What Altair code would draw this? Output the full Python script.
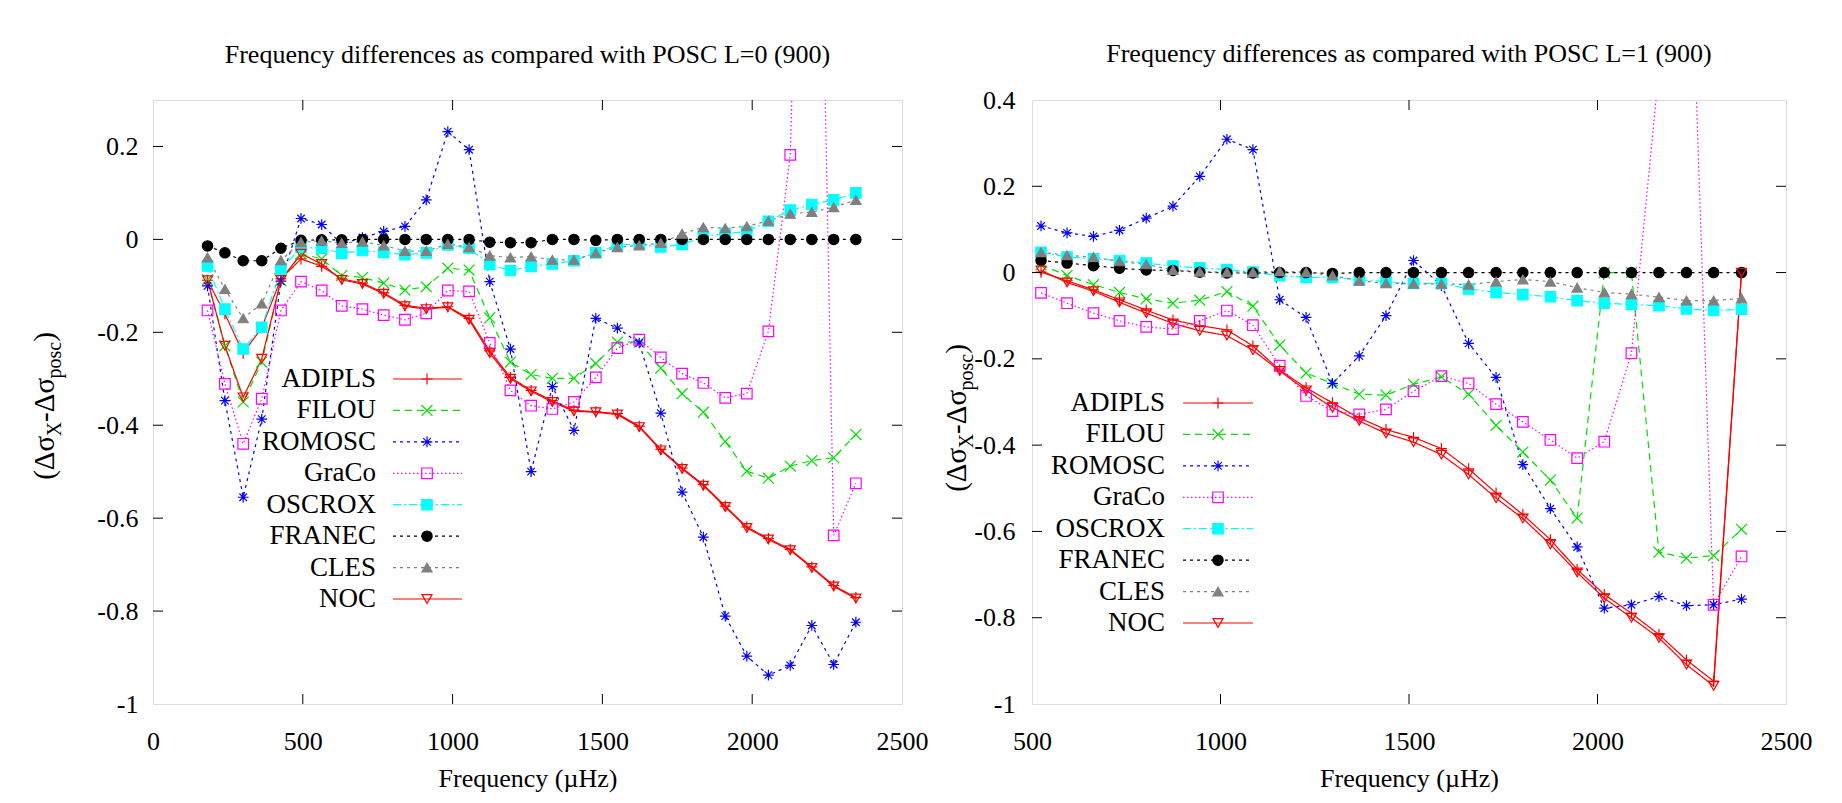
import altair as alt
import pandas as pd

FONT = "Liberation Serif"

names = ["ADIPLS", "FILOU", "ROMOSC", "GraCo", "OSCROX", "FRANEC", "CLES", "NOC"]

# ---------------- L=0 panel data ----------------
freq_l0 = [182, 240, 301, 363, 427, 494, 563, 630, 699, 770, 841, 912, 984, 1055, 1124, 1193,
           1262, 1333, 1405, 1478, 1550, 1623, 1695, 1766, 1837, 1910, 1982, 2054, 2127, 2199, 2272, 2346]

adipls_l0 = [-0.088, -0.16, -0.245, -0.19, -0.085, -0.042, -0.058, -0.085, -0.094, -0.115, -0.142, -0.148,
             -0.145, -0.170, -0.240, -0.297, -0.325, -0.347, -0.368, -0.371, -0.375, -0.402, -0.452, -0.492,
             -0.528, -0.574, -0.619, -0.644, -0.667, -0.705, -0.745, -0.771]
filou_l0 = [-0.087, -0.229, -0.350, -0.264, -0.089, -0.031, -0.042, -0.078, -0.082, -0.094, -0.109, -0.102,
            -0.062, -0.066, -0.169, -0.264, -0.291, -0.299, -0.299, -0.267, -0.221, -0.221, -0.277, -0.332,
            -0.372, -0.435, -0.499, -0.514, -0.488, -0.476, -0.470, -0.420]
romosc_l0 = [-0.100, -0.347, -0.555, -0.387, -0.09, 0.045, 0.032, -0.010, 0.004, 0.017, 0.028, 0.085,
             0.232, 0.193, -0.091, -0.236, -0.500, -0.317, -0.411, -0.170, -0.191, -0.223, -0.374, -0.544,
             -0.641, -0.811, -0.897, -0.938, -0.917, -0.831, -0.915, -0.824]
graco_l0 = [-0.153, -0.311, -0.440, -0.343, -0.153, -0.091, -0.110, -0.143, -0.150, -0.163, -0.173, -0.159,
            -0.110, -0.112, -0.223, -0.325, -0.358, -0.365, -0.350, -0.297, -0.234, -0.216, -0.254, -0.289,
            -0.309, -0.341, -0.332, -0.198, 0.182, 1.8, -0.637, -0.525]
oscrox_l0 = [-0.057, -0.150, -0.236, -0.189, -0.065, -0.017, -0.019, -0.030, -0.024, -0.028, -0.033, -0.029,
             -0.012, -0.019, -0.054, -0.067, -0.058, -0.053, -0.046, -0.029, -0.012, -0.010, -0.016, -0.011,
             0.006, 0.013, 0.017, 0.039, 0.063, 0.075, 0.085, 0.100]
franec_l0 = [-0.014, -0.029, -0.046, -0.046, -0.019, -0.002, -0.001, -0.001, 0, 0, 0, 0,
             0, 0, -0.006, -0.007, -0.007, 0, 0, -0.002, 0, 0, 0, 0,
             0, 0, 0, 0, 0, 0, 0, 0]
cles_l0 = [-0.039, -0.107, -0.170, -0.138, -0.045, -0.006, -0.003, -0.008, -0.005, -0.013, -0.025, -0.025,
           -0.010, -0.017, -0.035, -0.039, -0.037, -0.044, -0.044, -0.029, -0.017, -0.013, -0.008, 0.012,
           0.026, 0.024, 0.028, 0.040, 0.055, 0.059, 0.069, 0.085]
noc_l0 = [-0.088, -0.229, -0.340, -0.257, -0.087, -0.031, -0.053, -0.087, -0.096, -0.117, -0.144, -0.150,
          -0.146, -0.173, -0.245, -0.300, -0.327, -0.350, -0.370, -0.372, -0.377, -0.404, -0.454, -0.494,
          -0.530, -0.576, -0.621, -0.646, -0.669, -0.707, -0.747, -0.773]

# ---------------- L=1 panel data ----------------
freq_l1 = [524, 593, 663, 732, 803, 874, 945, 1017, 1086, 1157, 1227, 1297, 1368, 1439, 1512, 1586,
           1658, 1731, 1802, 1875, 1946, 2018, 2090, 2163, 2236, 2308, 2382]

adipls_l1 = [0.001, -0.019, -0.040, -0.063, -0.087, -0.110, -0.123, -0.133, -0.170, -0.226, -0.267, -0.302,
             -0.337, -0.364, -0.382, -0.408, -0.455, -0.511, -0.561, -0.619, -0.688, -0.746, -0.790, -0.839,
             -0.898, -0.947, 0.0]
filou_l1 = [0.018, -0.007, -0.028, -0.046, -0.061, -0.071, -0.064, -0.044, -0.078, -0.168, -0.233, -0.257,
            -0.282, -0.284, -0.259, -0.242, -0.282, -0.354, -0.416, -0.481, -0.569, 0.0, 0.0, -0.648,
            -0.662, -0.656, -0.595]
romosc_l1 = [0.108, 0.092, 0.084, 0.098, 0.126, 0.154, 0.223, 0.309, 0.285, -0.063, -0.104, -0.257,
             -0.193, -0.100, 0.028, -0.03, -0.164, -0.243, -0.445, -0.547, -0.636, -0.778, -0.770, -0.751,
             -0.772, -0.770, -0.757]
graco_l1 = [-0.047, -0.071, -0.094, -0.112, -0.126, -0.131, -0.112, -0.088, -0.122, -0.216, -0.286, -0.321,
            -0.329, -0.317, -0.275, -0.240, -0.257, -0.305, -0.346, -0.388, -0.430, -0.392, -0.187, 0.47,
            1.08, -0.770, -0.658]
oscrox_l1 = [0.047, 0.036, 0.032, 0.028, 0.022, 0.015, 0.011, 0.007, 0.001, -0.007, -0.011, -0.011,
             -0.017, -0.021, -0.025, -0.025, -0.038, -0.046, -0.051, -0.056, -0.065, -0.071, -0.074, -0.077,
             -0.084, -0.088, -0.085]
franec_l1 = [0.028, 0.022, 0.016, 0.010, 0.006, 0.005, 0.001, -0.001, -0.001, 0, 0, -0.002,
             0, 0, 0, 0, 0, 0, 0, 0, 0, 0, 0, 0, 0, 0, 0]
cles_l1 = [0.047, 0.040, 0.036, 0.026, 0.019, 0.006, 0.002, 0.001, 0.001, 0.003, 0.001, -0.007,
           -0.019, -0.025, -0.026, -0.026, -0.028, -0.021, -0.016, -0.021, -0.035, -0.046, -0.050, -0.057,
           -0.065, -0.065, -0.060]
noc_l1 = [0.005, -0.023, -0.043, -0.069, -0.094, -0.118, -0.135, -0.146, -0.180, -0.228, -0.273, -0.313,
          -0.344, -0.373, -0.393, -0.422, -0.468, -0.523, -0.570, -0.630, -0.695, -0.755, -0.800, -0.847,
          -0.909, -0.958, 0.0]

# tick values
xticks_l0 = [0, 500, 1000, 1500, 2000, 2500]
xticks_l1 = [500, 1000, 1500, 2000, 2500]
yticks_l0 = [-1, -0.8, -0.6, -0.4, -0.2, 0, 0.2]
yticks_l1 = [-1, -0.8, -0.6, -0.4, -0.2, 0, 0.2, 0.4]

# ---------------- styles ----------------
colors = ["#ff0000", "#00e000", "#0000ff", "#ff00ff", "#00ffff", "#000000", "#808080", "#ff0000"]
fills = ["transparent", "transparent", "transparent", "transparent", "#00ffff", "#000000", "#808080", "transparent"]
dashes = [[1, 0], [7, 5], [3, 4], [1.5, 2.5], [8, 3, 2, 3], [3, 4], [3, 4], [1, 0]]
PLUS = "M-1,0H1M0,-1V1"
XMARK = "M-1,-1L1,1M-1,1L1,-1"
STAR = "M-1,0H1M0,-1V1M-0.7,-0.7L0.7,0.7M-0.7,0.7L0.7,-0.7"
shapes = [PLUS, XMARK, STAR, "square", "square", "circle", "triangle-up", "triangle-down"]
sizes = [121, 100, 144, 100, 70, 64, 70, 90]

stroke_enc = alt.Stroke("series:N", scale=alt.Scale(domain=names, range=colors), legend=None)
dash_enc = alt.StrokeDash("series:N", scale=alt.Scale(domain=names, range=dashes), legend=None)
shape_enc = alt.Shape("series:N", scale=alt.Scale(domain=names, range=shapes), legend=None)
fill_enc = alt.Fill("series:N", scale=alt.Scale(domain=names, range=fills), legend=None)
size_enc = alt.Size("series:N", scale=alt.Scale(domain=names, range=sizes), legend=None)

LABEL_EXPR = "replace(format(datum.value, '.1~f'), '\u2212', '-')"
TICK = 10


def make_panel(freqs, series_vals, xdom, ydom, xvals, yvals, W, H, title, title_offset,
               leg_label_x, leg_line, leg_marker_x, leg_rows, ytitle_x, ytitle_c, ylab_pad):
    rows = []
    for n, vals in zip(names, series_vals):
        for f, v in zip(freqs, vals):
            rows.append({"freq": f, "value": v, "series": n})
    df = pd.DataFrame(rows)

    xs = alt.Scale(domain=xdom, nice=False, zero=False)

    def ys():
        return alt.Scale(domain=ydom, nice=False, zero=False)

    x_axis = alt.Axis(values=xvals, format="d", ticks=False, tickSize=0, domain=False, grid=False,
                      labelFont=FONT, labelFontSize=26, labelColor="black", labelPadding=24,
                      labelFlush=False, labelOverlap=False,
                      title="Frequency (µHz)", titleFont=FONT, titleFontSize=26, titleFontWeight="normal",
                      titleColor="black", titlePadding=11)
    y_axis = alt.Axis(values=yvals, labelExpr=LABEL_EXPR, ticks=False, tickSize=0, domain=False, grid=False,
                      labelFont=FONT, labelFontSize=26, labelColor="black", labelPadding=ylab_pad,
                      labelFlush=False, labelOverlap=False, title=None)

    base = alt.Chart(df)
    lines = base.mark_line(strokeWidth=1.2, clip=True).encode(
        x=alt.X("freq:Q", scale=xs, axis=x_axis),
        y=alt.Y("value:Q", scale=ys(), axis=y_axis),
        stroke=stroke_enc, strokeDash=dash_enc, detail="series:N", order="freq:Q")
    pts = base.mark_point(filled=False, opacity=1, strokeWidth=1.2, clip=True).encode(
        x=alt.X("freq:Q", scale=xs, axis=x_axis),
        y=alt.Y("value:Q", scale=ys(), axis=None),
        shape=shape_enc, stroke=stroke_enc, fill=fill_enc, size=size_enc)

    inner_x = [v for v in xvals if xdom[0] < v < xdom[1]]
    inner_y = [v for v in yvals if ydom[0] < v < ydom[1]]
    xt = alt.Chart(pd.DataFrame({"t": inner_x}))
    yt = alt.Chart(pd.DataFrame({"t": inner_y}))
    tb = xt.mark_rule(color="black", strokeWidth=1).encode(
        x=alt.X("t:Q", scale=xs, axis=x_axis), y=alt.value(H - TICK), y2=alt.value(H))
    tt = xt.mark_rule(color="black", strokeWidth=1).encode(
        x=alt.X("t:Q", scale=xs, axis=x_axis), y=alt.value(0), y2=alt.value(TICK))
    tl = yt.mark_rule(color="black", strokeWidth=1).encode(
        y=alt.Y("t:Q", scale=ys(), axis=None), x=alt.value(0), x2=alt.value(TICK))
    tr = yt.mark_rule(color="black", strokeWidth=1).encode(
        y=alt.Y("t:Q", scale=ys(), axis=None), x=alt.value(W - TICK), x2=alt.value(W))

    leg = alt.Chart(pd.DataFrame({"series": names}))
    ly = alt.Y("series:N", scale=alt.Scale(type="point", domain=names, range=leg_rows, padding=0), axis=None)
    leg_text = leg.mark_text(align="right", baseline="middle", font=FONT, fontSize=27, color="black").encode(
        x=alt.value(leg_label_x), y=ly, text="series:N")
    leg_lines = leg.mark_rule(strokeWidth=1.2).encode(
        x=alt.value(leg_line[0]), x2=alt.value(leg_line[1]), y=ly, stroke=stroke_enc, strokeDash=dash_enc)
    leg_pts = leg.mark_point(filled=False, opacity=1, strokeWidth=1.2).encode(
        x=alt.value(leg_marker_x), y=ly, shape=shape_enc, stroke=stroke_enc, fill=fill_enc, size=size_enc)

    # rotated y-axis title with subscripts
    pieces = [("(\u0394\u03c3", 29, False, 1.50), ("X", 20, True, 0.72), ("-\u0394\u03c3", 29, False, 1.50),
              ("posc", 20, True, 1.83), (")", 29, False, 0.333)]
    total = sum(fs * w for _, fs, _, w in pieces)
    ypos = ytitle_c + total / 2
    tlayers = []
    for txt, fs, sub, w in pieces:
        tlayers.append(alt.Chart(pd.DataFrame({"t": [txt]})).mark_text(
            angle=270, align="left", baseline="alphabetic", font=FONT, fontSize=fs, color="black").encode(
            x=alt.value(ytitle_x + (7 if sub else 0)), y=alt.value(ypos), text="t:N"))
        ypos -= fs * w

    layers = [lines, pts, tb, tt, tl, tr, leg_lines, leg_pts, leg_text] + tlayers
    return alt.layer(*layers).resolve_scale(y="independent").properties(
        width=W, height=H,
        title=alt.TitleParams(text=title, font=FONT, fontSize=26, fontWeight="normal", color="black",
                              frame="group", anchor="middle", baseline="alphabetic", offset=title_offset))


left = make_panel(freq_l0,
                  [adipls_l0, filou_l0, romosc_l0, graco_l0, oscrox_l0, franec_l0, cles_l0, noc_l0],
                  [0, 2500], [-1, 0.3], xticks_l0, yticks_l0, 749, 604,
                  "Frequency differences as compared with POSC L=0 (900)", 11,
                  223, (240, 309), 274, [279, 499], -99, 306, 15)
right = make_panel(freq_l1,
                   [adipls_l1, filou_l1, romosc_l1, graco_l1, oscrox_l1, franec_l1, cles_l1, noc_l1],
                   [500, 2500], [-1, 0.4], xticks_l1, yticks_l1, 754, 604,
                   "Frequency differences as compared with POSC L=1 (900)", -1,
                   133, (151, 221), 186, [303, 523], -66, 318, 17)

chart = alt.hconcat(left, right, spacing=13).properties(
    padding={"left": 30, "top": 40, "right": 5, "bottom": 5}
).configure_view(stroke="black", strokeWidth=2).configure(background="white")

chart.save("out.html", embed_options={"renderer": "svg", "actions": False})
